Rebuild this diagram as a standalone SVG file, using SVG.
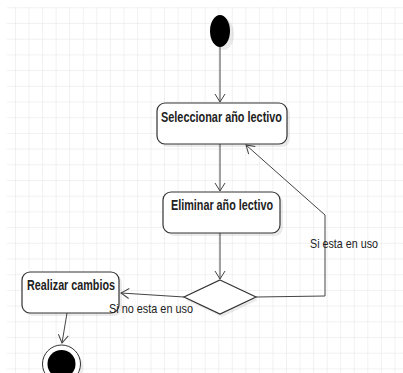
<svg xmlns="http://www.w3.org/2000/svg" width="403" height="373" viewBox="0 0 403 373">
<style>
.box{fill:#fff;stroke:#333;stroke-width:1.2}
.shadow{fill:#000;opacity:0.08}
.lbl{font-family:"Liberation Sans",Arial,sans-serif;font-size:14px;font-weight:bold;fill:#222}
.edge-lbl{font-family:"Liberation Sans",Arial,sans-serif;font-size:13px;fill:#222}
.conn{fill:none;stroke:#444;stroke-width:1}
</style>
<defs>
<pattern id="grid" x="15" y="23" width="13.55" height="15.7" patternUnits="userSpaceOnUse">
<path d="M0,0 V15.7 M0,0 H13.55" fill="none" stroke="#e4e4e4" stroke-width="1"/>
</pattern>
<marker id="arr" markerUnits="userSpaceOnUse" markerWidth="14" markerHeight="14" viewBox="-10 -7 12 14" refX="0" refY="0" orient="auto">
<path d="M-8,-5 L0,0 L-8,5" fill="none" stroke="#444" stroke-width="1"/>
</marker>
</defs>
<rect width="403" height="373" fill="#fff"/>
<rect x="7" y="7" width="396" height="366" fill="url(#grid)"/>

<g id="connectors">
<line class="conn" x1="220" y1="47" x2="220" y2="102" marker-end="url(#arr)"/>
<line class="conn" x1="220" y1="144" x2="220" y2="191" marker-end="url(#arr)"/>
<line class="conn" x1="220" y1="233" x2="220" y2="279" marker-end="url(#arr)"/>
<polyline class="conn" points="256,297 325,296 325,215 246,145" marker-end="url(#arr)"/>
<line class="conn" x1="184" y1="297" x2="121" y2="293" marker-end="url(#arr)"/>
<line class="conn" x1="67" y1="313" x2="62" y2="343" marker-end="url(#arr)"/>
</g>

<g id="start">
<ellipse class="shadow" cx="224" cy="34" rx="10" ry="16"/>
<ellipse cx="220" cy="31" rx="10" ry="16" fill="#000"/>
</g>

<g id="seleccionar">
<rect class="shadow" x="160" y="106" width="130" height="41" rx="8"/>
<rect class="box" x="157" y="103" width="130" height="41" rx="8"/>
<text class="lbl" x="161" y="122" textLength="121" lengthAdjust="spacingAndGlyphs">Seleccionar año lectivo</text>
</g>

<g id="eliminar">
<rect class="shadow" x="166" y="195" width="117" height="41" rx="8"/>
<rect class="box" x="163" y="192" width="117" height="41" rx="8"/>
<text class="lbl" x="171" y="210" textLength="102" lengthAdjust="spacingAndGlyphs">Eliminar año lectivo</text>
</g>

<g id="decision">
<polygon class="shadow" points="222,283 258,300 222,317 186,300"/>
<polygon class="box" points="220,280 256,297 220,314 184,297"/>
</g>

<g id="realizar">
<rect class="shadow" x="25" y="275" width="97" height="41" rx="8"/>
<rect class="box" x="22" y="272" width="97" height="41" rx="8"/>
<text class="lbl" x="27" y="290" textLength="88" lengthAdjust="spacingAndGlyphs">Realizar cambios</text>
</g>

<g id="end">
<circle class="shadow" cx="64" cy="367" r="19"/>
<circle cx="61.5" cy="364" r="19" fill="#fff" stroke="#333" stroke-width="1"/>
<circle cx="61.5" cy="364" r="14" fill="#000"/>
</g>

<g id="edge-labels">
<text class="edge-lbl" x="310" y="248" textLength="68" lengthAdjust="spacingAndGlyphs">Si esta en uso</text>
<text class="edge-lbl" x="109" y="313" textLength="84" lengthAdjust="spacingAndGlyphs">Si no esta en uso</text>
</g>
</svg>
